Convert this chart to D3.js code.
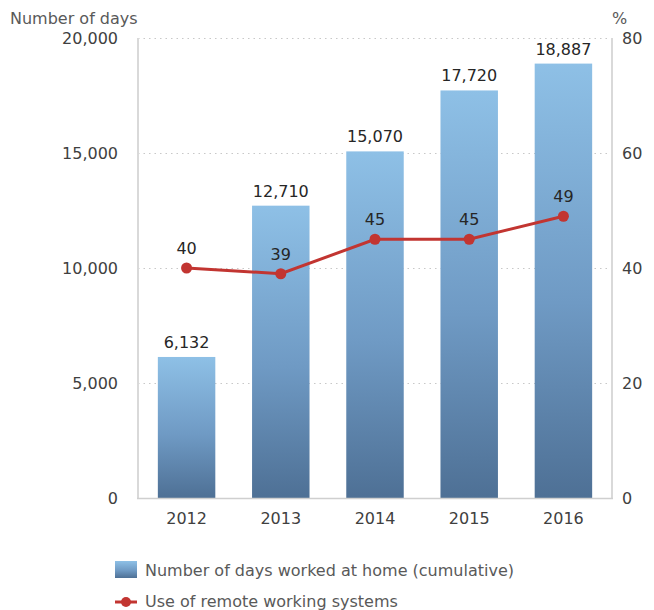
<!DOCTYPE html>
<html>
<head>
<meta charset="utf-8">
<script src="https://cdn.jsdelivr.net/npm/d3@7/dist/d3.min.js"></script>
<style>
  html, body { margin: 0; padding: 0; background: #fff; }
  svg { display: block; font-family: "DejaVu Sans", Verdana, sans-serif; }
</style>
</head>
<body>
<svg id="chart" width="654" height="610"></svg>
<script>
// Years on the x axis
const years = ["2012", "2013", "2014", "2015", "2016"];
// Cumulative number of days worked at home
const daysAtHome = [6132, 12710, 15070, 17720, 18887];
// Use of remote working systems (%)
const remoteUse = [40, 39, 45, 45, 49];
// Axis ticks
const leftTicks = [0, 5000, 10000, 15000, 20000];
const rightTicks = [0, 20, 40, 60, 80];

const svg = d3.select("#chart");
const margin = { left: 138, right: 612, top: 38, bottom: 498 };

const x = d3.scaleBand().domain(years).range([margin.left + 1, margin.right - 1]).paddingInner(0.39).paddingOuter(0.2);
const yL = d3.scaleLinear().domain([0, 20000]).range([margin.bottom, margin.top]);
const yR = d3.scaleLinear().domain([0, 80]).range([margin.bottom, margin.top]);

const defs = svg.append("defs");
const grad = defs.append("linearGradient").attr("id", "barGrad")
  .attr("x1", 0).attr("y1", 0).attr("x2", 0).attr("y2", 1);
grad.append("stop").attr("offset", "0%").attr("stop-color", "#8ec0e6");
grad.append("stop").attr("offset", "55%").attr("stop-color", "#6f9ac4");
grad.append("stop").attr("offset", "100%").attr("stop-color", "#4e7095");

const textColor = "#404040";
const fs = 16;

// dotted gridlines
svg.append("g").selectAll("line").data(leftTicks.filter(d => d > 0)).join("line")
  .attr("x1", margin.left).attr("x2", margin.right)
  .attr("y1", d => yL(d) + 0.5).attr("y2", d => yL(d) + 0.5)
  .attr("stroke", "#c8c8c8").attr("stroke-width", 1.2).attr("stroke-dasharray", "1.5,4");

// bars
svg.append("g").selectAll("rect").data(daysAtHome).join("rect")
  .attr("x", (d, i) => x(years[i]))
  .attr("width", x.bandwidth())
  .attr("y", d => yL(d))
  .attr("height", d => yL(0) - yL(d))
  .attr("fill", "url(#barGrad)");

// side axis lines and baseline
svg.append("line").attr("x1", margin.left).attr("x2", margin.left)
  .attr("y1", margin.top).attr("y2", margin.bottom).attr("stroke", "#d9d9d9").attr("stroke-width", 2);
svg.append("line").attr("x1", margin.right).attr("x2", margin.right)
  .attr("y1", margin.top).attr("y2", margin.bottom).attr("stroke", "#d9d9d9").attr("stroke-width", 2);
svg.append("line").attr("x1", margin.left - 1).attr("x2", margin.right + 1)
  .attr("y1", margin.bottom + 0.5).attr("y2", margin.bottom + 0.5).attr("stroke", "#cfcfcf").attr("stroke-width", 1.5);

// left axis
const leftAxis = d3.axisLeft(yL).tickValues(leftTicks).tickFormat(d3.format(",")).tickSize(0).tickPadding(20);
const gl = svg.append("g").attr("transform", `translate(${margin.left},0)`).call(leftAxis);
gl.select(".domain").remove();
gl.selectAll("text").attr("font-size", fs).attr("fill", textColor).attr("font-family", "DejaVu Sans");

// right axis
const rightAxis = d3.axisRight(yR).tickValues(rightTicks).tickSize(0).tickPadding(10);
const gr = svg.append("g").attr("transform", `translate(${margin.right},0)`).call(rightAxis);
gr.select(".domain").remove();
gr.selectAll("text").attr("font-size", fs).attr("fill", textColor).attr("font-family", "DejaVu Sans");

// x axis
const bottomAxis = d3.axisBottom(x).tickSize(0).tickPadding(15);
const gb = svg.append("g").attr("transform", `translate(0,${margin.bottom})`).call(bottomAxis);
gb.select(".domain").remove();
gb.selectAll("text").attr("font-size", fs).attr("fill", textColor).attr("font-family", "DejaVu Sans");

// axis titles
svg.append("text").attr("x", 10).attr("y", 24).attr("font-size", fs).attr("fill", "#595959").text("Number of days");
svg.append("text").attr("x", 612).attr("y", 24).attr("font-size", fs).attr("fill", "#595959").text("%");

// bar value labels
svg.append("g").selectAll("text").data(daysAtHome).join("text")
  .attr("x", (d, i) => x(years[i]) + x.bandwidth() / 2)
  .attr("y", d => yL(d) - 9)
  .attr("text-anchor", "middle").attr("font-size", fs).attr("fill", "#262626")
  .text(d => d3.format(",")(d));

// line series
const cx = (d, i) => x(years[i]) + x.bandwidth() / 2;
const lineGen = d3.line().x((d, i) => cx(d, i)).y(d => yR(d));
svg.append("path").datum(remoteUse).attr("d", lineGen)
  .attr("fill", "none").attr("stroke", "#c23531").attr("stroke-width", 3);
svg.append("g").selectAll("circle").data(remoteUse).join("circle")
  .attr("cx", cx).attr("cy", d => yR(d)).attr("r", 5.5).attr("fill", "#c23531");
svg.append("g").selectAll("text").data(remoteUse).join("text")
  .attr("x", cx).attr("y", d => yR(d) - 14)
  .attr("text-anchor", "middle").attr("font-size", fs).attr("fill", "#262626")
  .text(d => d);

// legend
const leg = svg.append("g");
leg.append("rect").attr("x", 115).attr("y", 561).attr("width", 22).attr("height", 17).attr("fill", "url(#barGrad)");
leg.append("text").attr("x", 145).attr("y", 576).attr("font-size", fs).attr("fill", "#595959")
  .text("Number of days worked at home (cumulative)");
leg.append("line").attr("x1", 115).attr("x2", 137).attr("y1", 602).attr("y2", 602)
  .attr("stroke", "#c23531").attr("stroke-width", 3);
leg.append("circle").attr("cx", 126).attr("cy", 602).attr("r", 5).attr("fill", "#c23531");
leg.append("text").attr("x", 145).attr("y", 607).attr("font-size", fs).attr("fill", "#595959")
  .text("Use of remote working systems");
</script>
</body>
</html>
